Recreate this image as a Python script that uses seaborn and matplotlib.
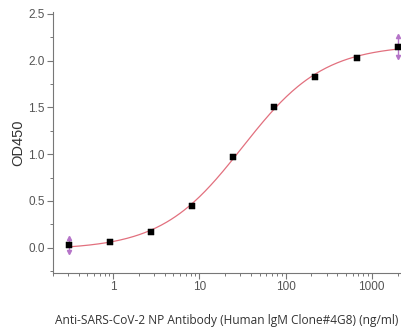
import numpy as np
import pandas as pd
import seaborn as sns
import matplotlib.pyplot as plt
from matplotlib.ticker import MultipleLocator, LogLocator, NullFormatter

conc = [0.305, 0.914, 2.74, 8.23, 24.7, 74.1, 222.2, 666.7, 2000]
od450 = [0.03, 0.065, 0.17, 0.45, 0.97, 1.50, 1.82, 2.03, 2.15]
err = [0.08, 0, 0, 0, 0, 0, 0, 0, 0.11]

df = pd.DataFrame({'conc': conc, 'od': od450, 'err': err})

# 4PL fit by coarse grid search
x = np.array(conc)
y = np.array(od450)
best = None
for bot in np.linspace(-0.05, 0.05, 11):
    for top in np.linspace(2.1, 2.5, 41):
        for ec in np.logspace(1.2, 2.0, 41):
            for h in np.linspace(0.7, 1.4, 36):
                pred = bot + (top - bot) / (1 + (ec / x) ** h)
                s = ((pred - y) ** 2).sum()
                if best is None or s < best[0]:
                    best = (s, bot, top, ec, h)
_, bot, top, ec, h = best
xf = np.logspace(np.log10(0.305), np.log10(2000), 300)
fit = pd.DataFrame({'conc': xf, 'od': bot + (top - bot) / (1 + (ec / xf) ** h)})

sns.set_style('ticks')
plt.rcParams['font.family'] = ['Liberation Sans', 'DejaVu Sans']
fig = plt.figure(figsize=(4.01, 3.31), dpi=100)
ax = fig.add_axes([0.132, 0.175, 0.866, 0.789])

sns.lineplot(data=fit, x='conc', y='od', ax=ax, color='#e2707e', lw=0.9)
e = df[df.err > 0]
pc = '#b574c8'
ax.errorbar(e.conc, e.od, yerr=e.err, fmt='none', ecolor=pc, elinewidth=1.0,
            capsize=0, zorder=3)
ax.plot(e.conc, e.od + e.err, ls='none', marker='^', ms=3, color=pc, zorder=3)
ax.plot(e.conc, e.od - e.err, ls='none', marker='v', ms=3, color=pc, zorder=3)
sns.scatterplot(data=df, x='conc', y='od', ax=ax, marker='s', s=20, color='black',
                edgecolor='black', zorder=4)

ax.set_xscale('log')
ax.set_xlim(0.2, 2140)
ax.set_ylim(-0.27, 2.52)
ax.yaxis.set_major_locator(MultipleLocator(0.5))
ax.yaxis.set_minor_locator(MultipleLocator(0.25))
ax.xaxis.set_major_locator(LogLocator(base=10))
ax.xaxis.set_minor_locator(LogLocator(base=10, subs=np.arange(2, 10)))
ax.xaxis.set_minor_formatter(NullFormatter())
ax.set_xticks([1, 10, 100, 1000])
ax.set_xticklabels(['1', '10', '100', '1000'])
ax.set_yticks([0, 0.5, 1, 1.5, 2, 2.5])
ax.set_yticklabels(['0.0', '0.5', '1.0', '1.5', '2.0', '2.5'])

for s in ['top', 'right']:
    ax.spines[s].set_visible(False)
for s in ['left', 'bottom']:
    ax.spines[s].set_color('#777777')
    ax.spines[s].set_linewidth(0.8)
ax.tick_params(which='major', length=4, width=0.8, color='#777777', labelsize=8.5,
               labelcolor='#555555', pad=2)
ax.tick_params(which='minor', length=2, width=0.7, color='#777777')

ax.set_ylabel('OD450', fontsize=10.5, color='#333333', labelpad=2)
ax.set_xlabel('Anti-SARS-CoV-2 NP Antibody (Human lgM Clone#4G8) (ng/ml)',
              fontsize=8.6, color='#333333', labelpad=15, family=['Open Sans', 'DejaVu Sans'])

fig.savefig('out.png', dpi=100)
